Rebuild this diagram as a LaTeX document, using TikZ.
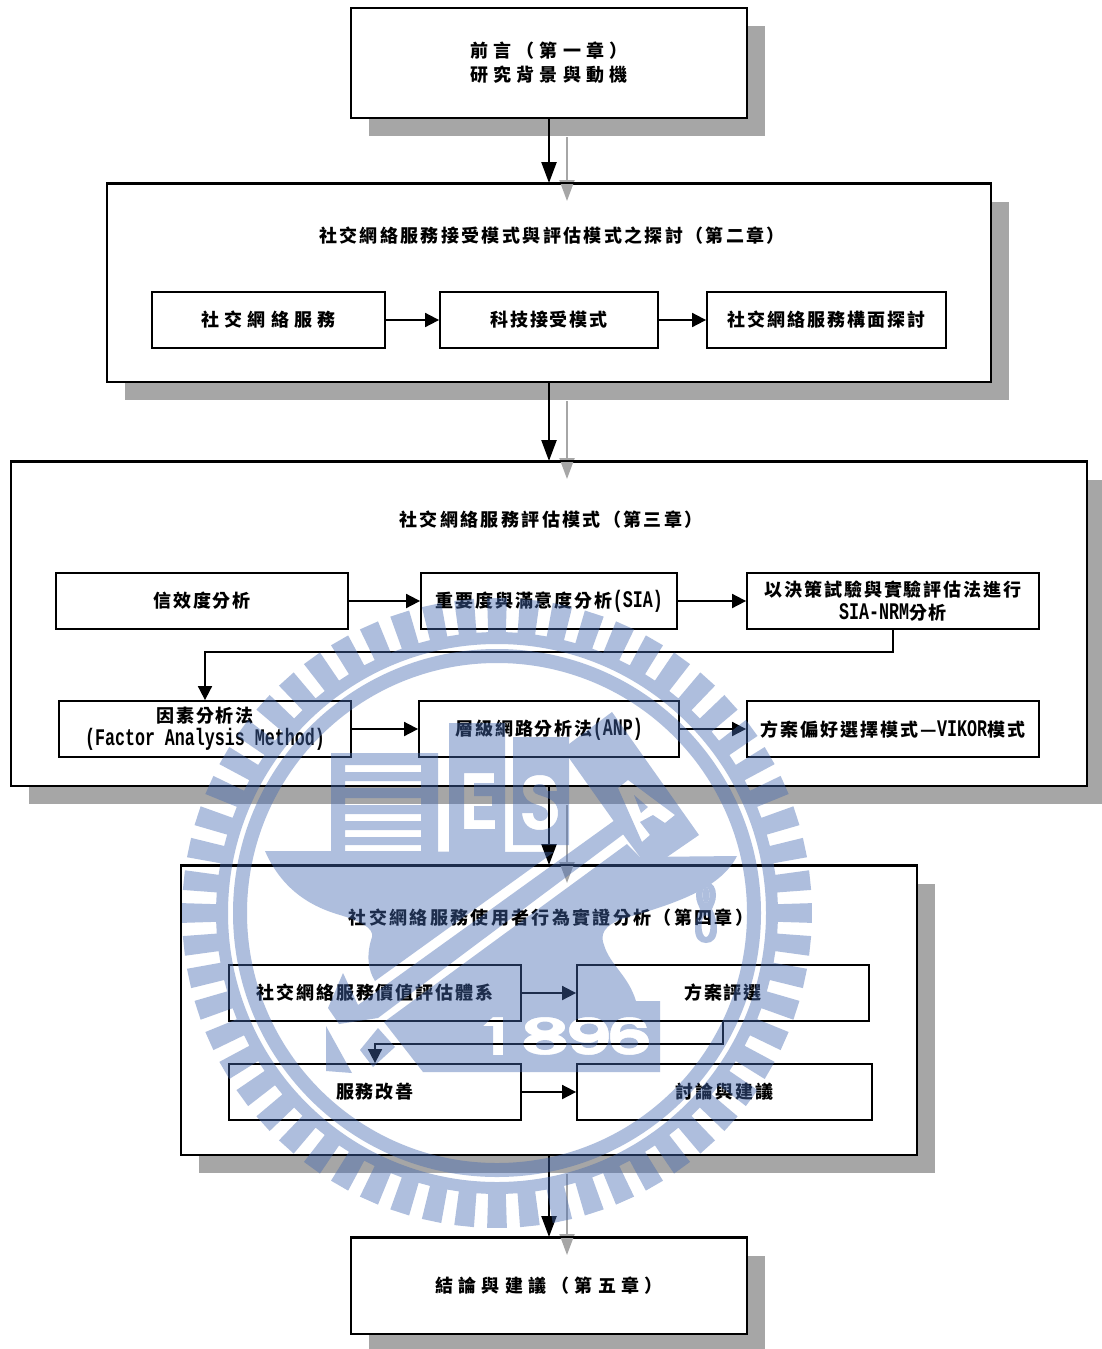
\documentclass[tikz,border=0pt]{standalone}
\usepackage{fontspec}
\usetikzlibrary{arrows.meta,shadows}
\newfontfamily\cjk{Noto Sans CJK TC}
\newfontfamily\ltn{Liberation Mono}[FakeStretch=0.7]
\newcommand{\en}[1]{{\ltn\fontsize{23.8}{24}\selectfont #1}}
\definecolor{shadowgray}{HTML}{A6A6A6}
\definecolor{logoblue}{RGB}{69,106,178}
\tikzset{
  chapbox/.style={draw,line width=2pt,fill=white,inner sep=0pt,align=center,
    general shadow={shadow xshift=18pt,shadow yshift=-18pt,fill=shadowgray,draw=none}},
  subbox/.style={draw,line width=1.8pt,fill=white,inner sep=0pt,align=center,minimum height=56pt},
  txt/.style={font=\cjk\bfseries\fontsize{18}{24}\selectfont\addfontfeature{LetterSpace=11}},
  titletxt/.style={font=\cjk\bfseries\fontsize{18}{24}\selectfont\addfontfeature{LetterSpace=13}},
  widetxt/.style={font=\cjk\bfseries\fontsize{18}{24}\selectfont\addfontfeature{LetterSpace=29}},
  flow/.style={line width=1.8pt,-{Triangle[length=14pt,width=14pt]}},
  chapflow/.style={line width=2.4pt,-{Triangle[length=21pt,width=15pt]}},
  ghostflow/.style={line width=2pt,shadowgray,-{Triangle[length=21pt,width=15pt]}},
  logo/.style={fill=logoblue}
}
\begin{document}
\begin{tikzpicture}[x=1pt,y=-1pt]
\useasboundingbox (0,0) rectangle (1101,1349);

% chapters
\node[chapbox,widetxt,minimum width=396pt,minimum height=110pt] (intro) at (549,63) {前言（第一章）\\研究背景與動機};
\node[chapbox,minimum width=884pt,minimum height=198pt] (review) at (549,283) {};
\node[chapbox,minimum width=1076pt,minimum height=324pt] (model) at (549,624) {};
\node[chapbox,minimum width=736pt,minimum height=289pt] (survey) at (549,1010.5) {};
\node[chapbox,widetxt,minimum width=396pt,minimum height=96pt] (concl) at (549,1286) {結論與建議（第五章）};

\node[titletxt] (reviewtitle) at (552,236) {社交網絡服務接受模式與評估模式之探討（第二章）};
\node[titletxt] (modeltitle) at (551,520) {社交網絡服務評估模式（第三章）};
\node[titletxt] (surveytitle) at (551,918) {社交網絡服務使用者行為實證分析（第四章）};

% shadows of the arrows
\draw[ghostflow] ([xshift=18pt,yshift=-18pt]intro.south) -- ([xshift=18pt,yshift=-18pt]review.north);
\draw[ghostflow] ([xshift=18pt,yshift=-18pt]review.south) -- ([xshift=18pt,yshift=-18pt]model.north);
\draw[ghostflow] ([xshift=18pt,yshift=-18pt]model.south) -- ([xshift=18pt,yshift=-18pt]survey.north);
\draw[ghostflow] ([xshift=18pt,yshift=-18pt]survey.south) -- ([xshift=18pt,yshift=-18pt]concl.north);
\draw[line width=1.4pt] (review.north west) -- (review.north east);
\draw[line width=1.4pt] (model.north west) -- (model.north east);
\draw[line width=1.4pt] (survey.north west) -- (survey.north east);
\draw[line width=1.4pt] (concl.north west) -- (concl.north east);

% second chapter
\node[subbox,txt,minimum width=233pt,font=\cjk\bfseries\fontsize{18}{24}\selectfont\addfontfeature{LetterSpace=28}] (sns) at (268.5,320) {社交網絡服務};
\node[subbox,txt,minimum width=218pt] (tam) at (549,320) {科技接受模式};
\node[subbox,txt,minimum width=239pt] (facet) at (826.5,320) {社交網絡服務構面探討};

% third chapter
\node[subbox,txt,minimum width=292pt] (reliab) at (202,601) {信效度分析};
\node[subbox,txt,minimum width=256pt] (sia) at (549,601) {重要度與滿意度分析\en{(SIA)}};
\node[subbox,txt,minimum width=292pt] (nrm) at (893,601) {以決策試驗與實驗評估法進行\\[-1pt]\en{SIA-NRM}分析};
\node[subbox,txt,minimum width=292pt] (factor) at (205,729) {因素分析法\\[-1pt]\en{(Factor Analysis Method)}};
\node[subbox,txt,minimum width=260pt] (anp) at (549,729) {層級網路分析法\en{(ANP)}};
\node[subbox,txt,minimum width=292pt] (vikor) at (893,729) {方案偏好選擇模式—\en{VIKOR}模式};

% fourth chapter
\node[subbox,txt,minimum width=292pt] (value) at (375,993) {社交網絡服務價值評估體系};
\node[subbox,txt,minimum width=292pt] (select) at (723,993) {方案評選};
\node[subbox,txt,minimum width=292pt] (improve) at (375,1092) {服務改善};
\node[subbox,txt,minimum width=295pt] (discuss) at (724.5,1092) {討論與建議};

% arrows
\draw[chapflow] (intro.south) -- (review.north);
\draw[chapflow] (review.south) -- (model.north);
\draw[chapflow] (model.south) -- (survey.north);
\draw[chapflow] (survey.south) -- (concl.north);
\draw[flow] (sns) -- (tam);
\draw[flow] (tam) -- (facet);
\draw[flow] (reliab) -- (sia);
\draw[flow] (sia) -- (nrm);
\draw[flow] (nrm.south) -- ++(0,22) -| (factor.north);
\draw[flow] (factor) -- (anp);
\draw[flow] (anp) -- (vikor);
\draw[flow] (value) -- (select);
\draw[flow] (select.south) -- ++(0,22) -| (improve.north);
\draw[flow] (improve) -- (discuss);

% seal over everything
\begin{scope}[transparency group,opacity=.43]
\begin{scope}[shift={(497,913)}]
\fill[logo,even odd rule] (-1.8:315) foreach \a in {0,6,...,354} { -- (\a-1.8:315) -- (\a+1.8:315) -- (\a+1.8:281) -- (\a+4.2:281) } -- cycle (0,0) circle [radius=269];
\fill[logo,even odd rule] (0,0) circle [radius=264] (0,0) circle [radius=250];
\end{scope}
% stairs
\fill[logo,even odd rule] (331,753) rectangle (438,852)
  (345,765) rectangle (421,772) (345,781) rectangle (421,788) (345,798) rectangle (421,805)
  (345,814) rectangle (421,821) (345,830) rectangle (421,837) (345,845) rectangle (421,851);
% E
\fill[logo,even odd rule] (449,723) rectangle (505,853)
  (464,773) -- (494,773) -- (494,783) -- (474,783) -- (474,796) -- (492,796) -- (492,806) -- (474,806) -- (474,820) -- (495,820) -- (495,829) -- (464,829) -- cycle;
% S
\fill[logo,even odd rule] (513,737) rectangle (569,845)
  (557,791) -- (547,791) .. controls (546,786) and (544,784) .. (540,784) .. controls (535,784) and (533,786) .. (533,789) .. controls (533,793) and (536,794) .. (542,796) .. controls (552,799) and (558,803) .. (558,813) .. controls (558,824) and (550,830) .. (540,830) .. controls (529,830) and (523,824) .. (522,813) -- (533,813) .. controls (533,818) and (536,821) .. (540,821) .. controls (545,821) and (548,818) .. (548,814) .. controls (548,809) and (544,807) .. (538,805) .. controls (528,802) and (523,798) .. (523,789) .. controls (523,780) and (530,775) .. (540,775) .. controls (551,775) and (556,781) .. (557,791) -- cycle;
% A
\fill[logo,even odd rule] (612,712) -- (699,835) -- (667,857) -- (640,857) -- (625,837) -- (569,758) -- (569,744) -- cycle
  (618,788) -- (628,780) -- (675,815) -- (665,823) -- (653,815) -- (640,822) -- (650,835) -- (642,842) -- cycle
  (634,795) -- (648,807) -- (641,813) -- cycle;
% anvil
\fill[logo] (265,851) -- (554,852) -- (375,981) .. controls (368,970) and (366,955) .. (372,937) .. controls (374,928) and (360,921) .. (340,915) .. controls (305,905) and (280,885) .. (265,851) -- cycle;
\fill[logo] (613.6,821) -- (625,833) -- (378,1018) -- (339,1024) -- (328,1008) -- (343,973) -- (358,1005) -- cycle;
\fill[logo] (326,1026) -- (352,1073) -- (326,1071) -- cycle;
\fill[logo] (378,1028) -- (360,1050) -- (373,1067) -- (395,1047) -- cycle;
\fill[logo,even odd rule] (627,844) -- (640,857) -- (737,856) .. controls (720,890) and (670,905) .. (625,918) .. controls (603,925) and (600,935) .. (604,945) .. controls (610,965) and (628,975) .. (636,1001) -- (660,1001) -- (660,1072) -- (423,1072) -- (384,1022) -- cycle
  (706,895) ellipse [x radius=3.5,y radius=8]
  % 1896
  (483,1026) -- (493,1017) -- (503,1017) -- (503,1055) -- (493,1055) -- (493,1026) -- cycle
  (532,1035) .. controls (520,1031) and (522,1017) .. (545,1017) .. controls (568,1017) and (570,1031) .. (558,1035) .. controls (572,1039) and (570,1055) .. (545,1055) .. controls (520,1055) and (518,1039) .. (532,1035) -- cycle
  (545,1026) ellipse [x radius=8,y radius=4.5] (545,1045) ellipse [x radius=9,y radius=5]
  (569,1030) .. controls (569,1022) and (577,1017) .. (589,1017) .. controls (602,1017) and (609,1024) .. (609,1036) .. controls (609,1048) and (601,1055) .. (589,1055) .. controls (578,1055) and (572,1051) .. (571,1044) -- (581,1044) .. controls (582,1047) and (585,1048) .. (589,1048) .. controls (595,1048) and (598,1045) .. (598,1040) .. controls (595,1042) and (592,1043) .. (588,1043) .. controls (576,1043) and (569,1038) .. (569,1030) -- cycle
  (589,1029) ellipse [x radius=9,y radius=5.5]
  (649,1042) .. controls (649,1050) and (641,1055) .. (629,1055) .. controls (616,1055) and (610,1048) .. (610,1036) .. controls (610,1024) and (617,1017) .. (629,1017) .. controls (640,1017) and (646,1021) .. (647,1028) -- (637,1028) .. controls (636,1025) and (633,1024) .. (629,1024) .. controls (623,1024) and (620,1027) .. (620,1032) .. controls (623,1030) and (626,1029) .. (630,1029) .. controls (642,1029) and (649,1034) .. (649,1042) -- cycle
  (629,1043) ellipse [x radius=9,y radius=5.5];
% small 8
\fill[logo,even odd rule] (706,882) .. controls (713,882) and (716,888) .. (716,895) .. controls (716,902) and (713,906) .. (712,909) .. controls (715,915) and (717,922) .. (717,929) .. controls (717,938) and (713,943) .. (706,943) .. controls (699,943) and (695,938) .. (695,929) .. controls (695,922) and (697,915) .. (700,909) .. controls (699,906) and (696,902) .. (696,895) .. controls (696,888) and (699,882) .. (706,882) -- cycle
  (706,895) ellipse [x radius=3.5,y radius=8] (706,926) ellipse [x radius=4.5,y radius=11];
\end{scope}
\end{tikzpicture}
\end{document}
